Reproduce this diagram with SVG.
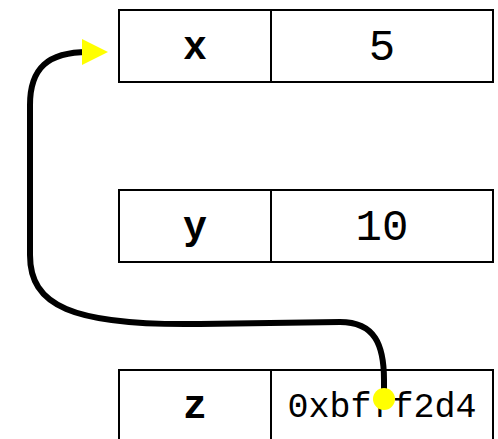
<svg xmlns="http://www.w3.org/2000/svg" width="498" height="439" viewBox="0 0 498 439">
<style>
.box{fill:#fff;stroke:#000;stroke-width:2}
.lbl{font-family:"Courier New","Liberation Mono",monospace;font-weight:bold;font-size:40px;text-anchor:middle}
.val{font-family:"Courier New","Liberation Mono",monospace;font-size:44px;text-anchor:middle}
.addr{font-family:"Courier New","Liberation Mono",monospace;font-size:35px;text-anchor:middle}
.conn{fill:none;stroke:#000;stroke-width:6;stroke-linecap:round}
</style>
<defs>
<marker id="ah" markerUnits="userSpaceOnUse" markerWidth="28" markerHeight="28" refX="6" refY="13" orient="auto" viewBox="0 0 28 26">
<path d="M0,0 L26,13 L0,26 Z" fill="#ff0"/>
</marker>
</defs>
<g id="node-x">
<rect class="box" x="119" y="10" width="374" height="72"/>
<line x1="271" y1="10" x2="271" y2="82" stroke="#000" stroke-width="2"/>
<text class="lbl" x="195" y="59">x</text>
<text class="val" x="382" y="60">5</text>
</g>
<g id="node-y">
<rect class="box" x="119" y="190" width="374" height="72"/>
<line x1="271" y1="190" x2="271" y2="262" stroke="#000" stroke-width="2"/>
<text class="lbl" x="195" y="239">y</text>
<text class="val" x="382" y="240">10</text>
</g>
<g id="node-z">
<rect class="box" x="119" y="370" width="374" height="74"/>
<line x1="271" y1="370" x2="271" y2="444" stroke="#000" stroke-width="2"/>
<text class="lbl" x="195" y="418">z</text>
<text class="addr" x="382" y="417">0xbfff2d4</text>
</g>
<g id="connectors">
<path class="conn" d="M384,399 L384,380 C384,345 375,322 340,322 L200,324 C70,326 30,305 30,255 L30,105 C30,68 48,52 88,52" marker-end="url(#ah)"/>
<circle cx="384" cy="399" r="11" fill="#ff0"/>
</g>
</svg>
